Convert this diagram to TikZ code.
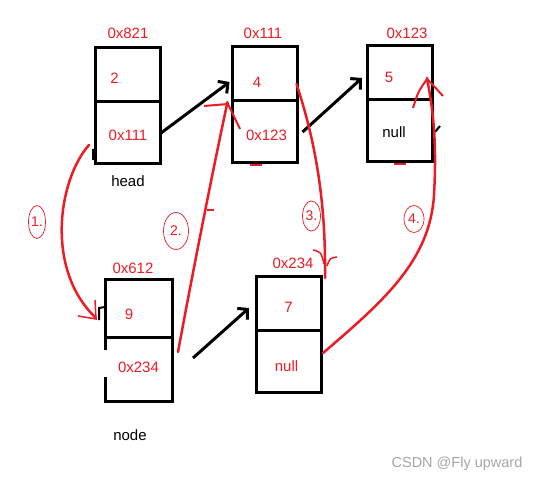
\documentclass[tikz,border=0pt]{standalone}
\usepackage{fontspec}
\setmainfont{Liberation Sans}
\usetikzlibrary{arrows.meta, shapes.geometric, positioning}
\definecolor{paintred}{RGB}{237,28,36}

\begin{document}
\begin{tikzpicture}[x=1pt, y=-1pt,
  cell/.style={draw, line width=3pt, minimum width=65pt, inner sep=0pt, outer sep=0pt},
  val/.style={text=paintred, font=\fontsize{15}{18}\selectfont},
  ring/.style={ellipse, draw=paintred, line width=0.7pt, text=paintred, inner sep=0pt, font=\fontsize{14}{16}\selectfont},
  ptr/.style={line width=3pt, -{Straight Barb[length=7pt, width=15pt]}},
  redline/.style={paintred, line width=2.5pt, line cap=round}]
  \useasboundingbox[fill=white] (0,0) rectangle (540,481);
  % Boxes
  \node[cell, minimum height=54pt, anchor=north] (a821) at (127.5,48) {};
  \node[cell, minimum height=62pt, below=0pt of a821] (b821) {};
  \node[cell, minimum height=54pt, anchor=north] (a111) at (265,47) {};
  \node[cell, minimum height=62pt, below=0pt of a111] (b111) {};
  \node[cell, minimum height=54pt, anchor=north] (a123) at (399.5,46) {};
  \node[cell, minimum height=62pt, below=0pt of a123] (b123) {};
  \node[cell, minimum width=67pt, minimum height=58pt, anchor=north] (a612) at (138.5,279) {};
  \node[cell, minimum width=67pt, minimum height=64pt, below=0pt of a612] (b612) {};
  \node[cell, minimum height=54pt, anchor=north] (a234) at (288.5,276) {};
  \node[cell, minimum height=62pt, below=0pt of a234] (b234) {};
  \draw[white, line width=4pt] ([shift={(0,13)}]b612.north west) -- ([shift={(0,-24)}]b612.south west);
  % Addresses
  \node[val] (l821) at ([shift={(0.5,-15)}]a821.north) {0x821};
  \node[val] (l111) at ([shift={(-2,-14)}]a111.north) {0x111};
  \node[val] (l123) at ([shift={(7.5,-13)}]a123.north) {0x123};
  \node[val] (l612) at ([shift={(-5.5,-11)}]a612.north) {0x612};
  \node[val] (l234) at ([shift={(4.5,-13)}]a234.north) {0x234};
  \node[val, text=black] (head) at ([shift={(0.5,17)}]b821.south) {head};
  \node[val, text=black] (node) at ([shift={(-8.5,34)}]b612.south) {node};
  % Values
  \node[val] (v821) at ([shift={(-13,3)}]a821.center) {2};
  \node[val] (n821) at ([shift={(0.5,2)}]b821.center) {0x111};
  \node[val] (v111) at ([shift={(-8,8)}]a111.center) {4};
  \node[val] (n111) at ([shift={(1.5,3)}]b111.center) {0x123};
  \node[val] (v123) at ([shift={(-10.5,4)}]a123.center) {5};
  \node[val, text=black] (n123) at ([shift={(-5.5,1)}]b123.center) {null};
  \node[val] (v612) at ([shift={(-9.5,6)}]a612.center) {9};
  \node[val] (n612) at ([shift={(0,-2)}]b612.center) {0x234};
  \node[val] (v234) at ([shift={(0,4)}]a234.center) {7};
  \node[val] (n234) at ([shift={(-2,5)}]b234.center) {null};
  % Pointers
  \draw[ptr] ([shift={(1,0)}]b821.east) -- ([shift={(-3,8)}]a111.west);
  \draw[ptr] ([shift={(5,0)}]b111.east) -- ([shift={(-5,5)}]a123.west);
  \draw[ptr] ([shift={(21,-11)}]b612.east) -- ([shift={(-7,5)}]a234.west);
  \draw[line width=2pt] (93,160) -- (93,150) -- (96,149);
  \draw[line width=2pt] (99,320) -- (99,308) -- (105,307);
  \draw[line width=2pt] ([shift={(3,1)}]b123.east) -- ++(5,-6);
  % Steps
  \draw[redline] ([shift={(-6,-19)}]b821.south west) .. controls (58,180) and (45,270) .. ([shift={(-9,10)}]a612.west);
  \draw[paintred, line width=1.5pt] (78,316) -- (96,319) -- (95,300);
  \draw[redline] ([shift={(6,-17)}]b612.east) .. controls (195,260) and (215,160) .. ([shift={(-5,1)}]a111.south west);
  \draw[paintred, line width=2pt] (204,106) -- (228,104) -- (240,129);
  \draw[paintred, line width=2pt] (207,210) -- (214,210);
  \draw[redline] ([shift={(-1,10)}]a111.east) .. controls (315,140) and (326,200) .. ([shift={(4,2)}]a234.north east);
  \draw[paintred, line width=1.5pt] (313,250) .. controls (321,252) .. (324,264);
  \draw[paintred, line width=1.5pt] (337,257) .. controls (330,258) .. (327,266);
  \draw[redline] ([shift={(2,-8)}]b234.east) .. controls (385,300) and (430,260) .. (434,195)
    .. controls (437,140) and (433,110) .. ([shift={(-5,5)}]a123.east);
  \draw[paintred, line width=2pt] (413,108) .. controls (418,92) .. (427,79) .. controls (432,84) .. (443,96);
  \draw[paintred, line width=1.5pt] (250,165) -- (262,165);
  \draw[paintred, line width=1.5pt] (394,164) -- (406,164);
  \node[ring, minimum width=17pt, minimum height=33pt] (e1) at (37,222) {1.};
  \node[ring, minimum width=25pt, minimum height=37pt] (e2) at (176,231) {2.};
  \node[ring, minimum width=18pt, minimum height=30pt] (e3) at (311.5,216) {3.};
  \node[ring, minimum width=20pt, minimum height=27pt] (e4) at (414,219) {4.};
  % Watermark
  \node[text=gray!70, font=\fontsize{14.5}{16}\selectfont] (wm) at (457,464) {CSDN @Fly upward};
\end{tikzpicture}
\end{document}
